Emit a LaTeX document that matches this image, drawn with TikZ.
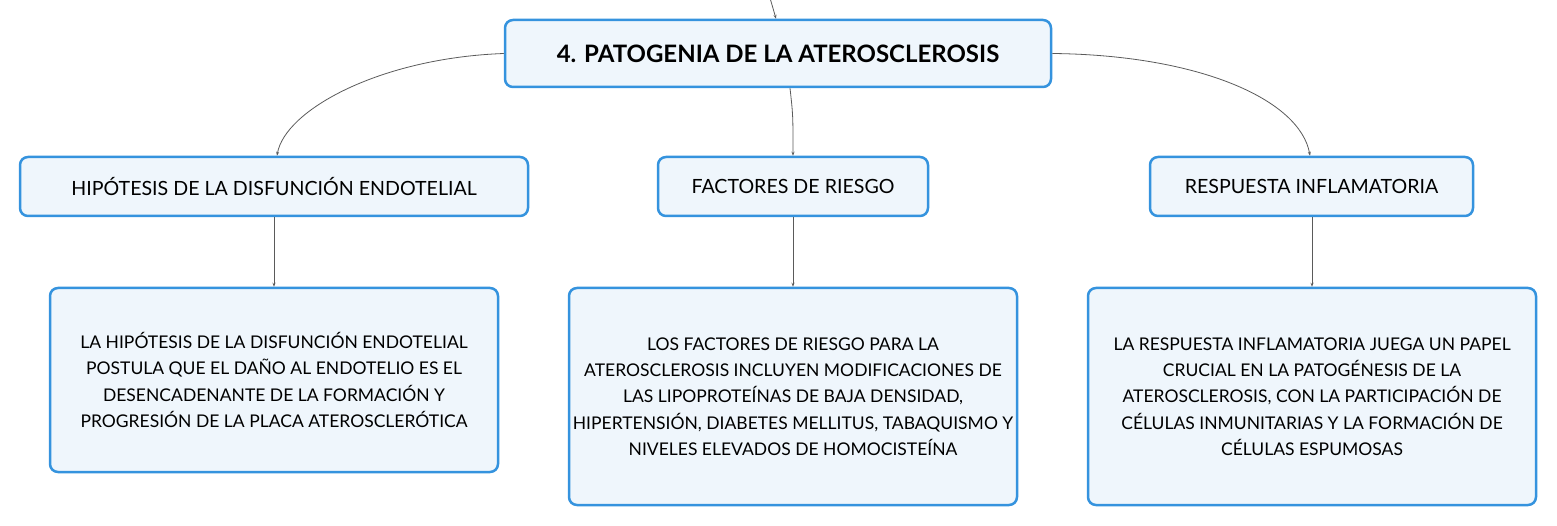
\documentclass[tikz,border=0pt]{standalone}
\usepackage{fontspec}
\setmainfont{Lato}
\usetikzlibrary{arrows.meta}
\definecolor{boxblue}{HTML}{3593DE}
\definecolor{boxfill}{HTML}{EFF6FC}
\definecolor{linegray}{HTML}{5A5A5A}
\tikzset{
  box/.style={draw=boxblue, line width=2.5pt, fill=boxfill, rounded corners=8pt, align=center, inner sep=0pt},
  rootbox/.style={box, minimum width=546pt, minimum height=67pt, font=\fontsize{24}{28}\selectfont\bfseries},
  midbox/.style={box, minimum height=59pt, font=\fontsize{19.6}{23}\selectfont},
  leafbox/.style={box, minimum width=448pt, font=\fontsize{17.5}{26.3}\selectfont},
  conn/.style={draw=linegray, line width=0.8pt, -{Stealth[length=4pt,width=3pt]}}
}
\begin{document}
\begin{tikzpicture}[x=1pt,y=-1pt]
\useasboundingbox (0,0) rectangle (1557,526);
\node[rootbox] (root) at (778,53.5) {4. PATOGENIA DE LA ATEROSCLEROSIS};
\node[midbox, minimum width=508pt] (h) at (274,186.5) {HIPÓTESIS DE LA DISFUNCIÓN ENDOTELIAL};
\node[midbox, minimum width=270pt] (f) at (793,186.5) {FACTORES DE RIESGO};
\node[midbox, minimum width=323pt] (r) at (1311.5,186.5) {RESPUESTA INFLAMATORIA};
\node[leafbox, minimum height=184pt] (hl) at (274,380) {LA HIPÓTESIS DE LA DISFUNCIÓN ENDOTELIAL\\POSTULA QUE EL DAÑO AL ENDOTELIO ES EL\\DESENCADENANTE DE LA FORMACIÓN Y\\PROGRESIÓN DE LA PLACA ATEROSCLERÓTICA};
\node[leafbox, minimum height=217pt] (fl) at (793,396.5) {LOS FACTORES DE RIESGO PARA LA\\ATEROSCLEROSIS INCLUYEN MODIFICACIONES DE\\LAS LIPOPROTEÍNAS DE BAJA DENSIDAD,\\HIPERTENSIÓN, DIABETES MELLITUS, TABAQUISMO Y\\NIVELES ELEVADOS DE HOMOCISTEÍNA};
\node[leafbox, minimum height=217pt] (rl) at (1312,396.5) {LA RESPUESTA INFLAMATORIA JUEGA UN PAPEL\\CRUCIAL EN LA PATOGÉNESIS DE LA\\ATEROSCLEROSIS, CON LA PARTICIPACIÓN DE\\CÉLULAS INMUNITARIAS Y LA FORMACIÓN DE\\CÉLULAS ESPUMOSAS};
\coordinate (top) at (770,-2);
\draw[conn] (top) .. controls (773,8) .. (root.north -| 776,0);
\draw[conn] (root.west) .. controls (380,58) and (285,110) .. (h.north -| 277,0);
\draw[conn] (root.south -| 790,0) .. controls (793,115) .. (f.north);
\draw[conn] (root.east) .. controls (1200,55) and (1300,100) .. (r.north -| 1310,0);
\draw[conn] (h.south) -- (hl.north);
\draw[conn] (f.south) -- (fl.north);
\draw[conn] (r.south -| 1312,0) -- (rl.north);
\end{tikzpicture}
\end{document}
